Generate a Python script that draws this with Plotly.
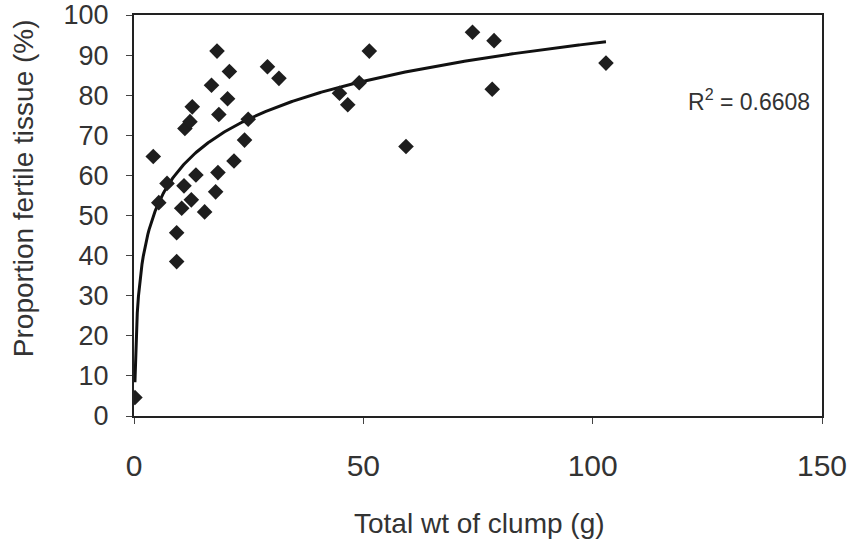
import numpy as np
import plotly.graph_objects as go

# Data
clump_wt = [0.2, 4.2, 5.4, 7.2, 9.3, 9.3, 10.4, 10.9, 11.1, 12.2, 12.5, 12.7,
            13.5, 15.4, 16.9, 17.8, 18.1, 18.3, 18.5, 20.4, 20.8, 21.8, 24.1,
            24.9, 29.1, 31.6, 44.8, 46.6, 49.1, 51.3, 59.3, 73.8, 78.1, 78.5,
            102.9]
fertile_pct = [4.6, 64.7, 53.2, 58.0, 45.7, 38.5, 51.8, 57.4, 71.7, 73.4, 53.9,
               77.1, 60.1, 50.9, 82.5, 55.9, 91.0, 60.7, 75.2, 79.1, 85.9, 63.6,
               68.8, 74.0, 87.1, 84.2, 80.5, 77.6, 83.1, 91.0, 67.2, 95.7, 81.5,
               93.6, 88.0]

# Logarithmic trendline coefficients (y = a*ln(x) + b)
trend_a = 13.6
trend_b = 30.3
r2_text = "R<sup>2</sup> = 0.6608"

x_title = "Total wt of clump (g)"
y_title = "Proportion fertile tissue (%)"
x_ticks = [0, 50, 100, 150]
y_ticks = list(range(0, 101, 10))

tx = np.linspace(min(clump_wt), max(clump_wt), 400)
ty = trend_a * np.log(tx) + trend_b

FONT = "Liberation Sans, Arial, sans-serif"
TXT = "#333333"

fig = go.Figure()
fig.add_trace(go.Scatter(x=tx, y=ty, mode="lines",
                         line=dict(color="#111111", width=3),
                         hoverinfo="skip", showlegend=False))
fig.add_trace(go.Scatter(x=clump_wt, y=fertile_pct, mode="markers",
                         marker=dict(symbol="diamond", size=12, color="#1e1e1e",
                                     line=dict(width=0)),
                         showlegend=False))

fig.add_annotation(x=0.985, y=0.789, xref="paper", yref="paper",
                   text=r2_text, showarrow=False, xanchor="right", yanchor="middle",
                   font=dict(family=FONT, size=23, color=TXT))
# axis titles as annotations to match their placement
fig.add_annotation(x=0.502, y=-0.267, xref="paper", yref="paper",
                   text=x_title, showarrow=False, xanchor="center", yanchor="middle",
                   font=dict(family=FONT, size=28, color=TXT))
fig.add_annotation(x=-0.1606, y=0.567, xref="paper", yref="paper",
                   text=y_title, showarrow=False, textangle=-90,
                   xanchor="center", yanchor="middle",
                   font=dict(family=FONT, size=28, color=TXT))

fig.update_layout(
    width=853, height=547,
    margin=dict(l=134, r=31, t=15, b=131),
    paper_bgcolor="white", plot_bgcolor="white",
    font=dict(family=FONT, color=TXT),
    xaxis=dict(range=[0, 150], tickvals=x_ticks, ticks="outside", ticklen=6,
               tickwidth=1, tickcolor="#444", showgrid=False, zeroline=False,
               showline=True, linecolor="#222", linewidth=2, mirror=True,
               tickfont=dict(family=FONT, size=30, color=TXT),
               ticklabelstandoff=16, automargin=False),
    yaxis=dict(range=[0, 100], tickvals=y_ticks, ticks="outside", ticklen=6,
               tickwidth=1, tickcolor="#444", showgrid=False, zeroline=False,
               showline=True, linecolor="#222", linewidth=2, mirror=True,
               tickfont=dict(family=FONT, size=27, color=TXT),
               ticklabelstandoff=12, automargin=False),
)

fig.write_html("out.html")
